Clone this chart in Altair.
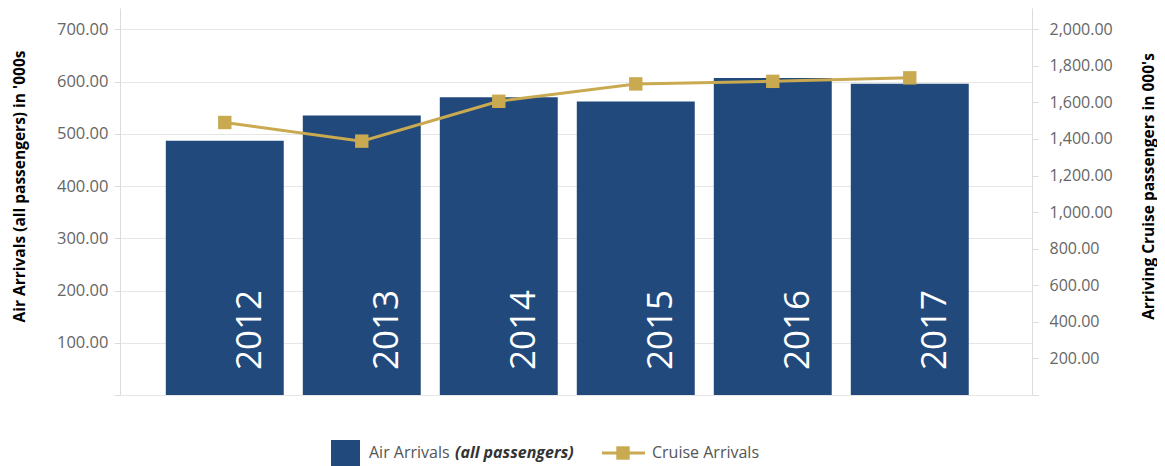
import altair as alt
import pandas as pd

years = ["2012", "2013", "2014", "2015", "2016", "2017"]
air_arrivals = [487, 535, 570, 562, 607, 596]
cruise_arrivals = [1490, 1388, 1606, 1701, 1715, 1734]

left_ticks = [0, 100, 200, 300, 400, 500, 600, 700]
right_ticks = [0, 200, 400, 600, 800, 1000, 1200, 1400, 1600, 1800, 2000]

NAVY = "#21497b"
GOLD = "#c9aa50"
FONT = "Open Sans"

df = pd.DataFrame({"year": years, "air": air_arrivals, "cruise": cruise_arrivals, "zero": [0] * 6})

xscale = alt.Scale(paddingInner=0.139, paddingOuter=0.398, align=0.42)
x = alt.X("year:N", scale=xscale, axis=None)

hide0 = "datum.value == 0 ? '' : format(datum.value, ',.2f')"

left_axis = alt.Axis(
    values=left_ticks, labelExpr=hide0, title="Air Arrivals (all passengers) in '000s",
    grid=True, gridColor="#e6e6e6", domainColor="#dcdcdc", tickColor="#dcdcdc", tickSize=6,
    labelPadding=6, labelFontSize=16.5, labelColor="#666666", labelFont=FONT,
    titleFont=FONT, titleFontSize=15.5, titleFontWeight="bold", titleColor="#000000",
    titleAngle=270, titleAlign="center", titleBaseline="middle", titleX=-101, titleY=178,
)
right_axis = alt.Axis(
    orient="right", values=right_ticks, labelExpr=hide0, title="Arriving Cruise passengers in 000's",
    grid=False, domainColor="#dcdcdc", tickColor="#dcdcdc", tickSize=6,
    labelPadding=11, labelFontSize=16, labelColor="#666666", labelFont=FONT,
    titleFont=FONT, titleFontSize=15.5, titleFontWeight="bold", titleColor="#000000",
    titleAngle=270, titleAlign="center", titleBaseline="middle", titleX=116, titleY=178,
)

left_scale = alt.Scale(domain=[0, 741], nice=False)
right_scale = alt.Scale(domain=[0, 2116], nice=False)

bars = alt.Chart(df).mark_bar(color=NAVY).encode(
    x=x, y=alt.Y("air:Q", scale=left_scale, axis=left_axis)
)
year_text = alt.Chart(df).mark_text(
    color="white", fontSize=35, font=FONT, angle=270, align="left", baseline="middle", dx=25, dy=25
).encode(
    x=x, y=alt.Y("zero:Q", scale=left_scale, axis=left_axis), text="year:N"
)
line = alt.Chart(df).mark_line(
    color=GOLD, strokeWidth=3,
    point=alt.OverlayMarkDef(shape="square", size=180, filled=True, color=GOLD, opacity=1),
).encode(
    x=x, y=alt.Y("cruise:Q", scale=right_scale, axis=right_axis)
)

one = pd.DataFrame({"k": [0]})
leg_rect = alt.Chart(one).mark_rect(color=NAVY).encode(
    x=alt.value(211), x2=alt.value(240), y=alt.value(432), y2=alt.value(460)
)
leg_t1 = alt.Chart(one).mark_text(
    text="Air Arrivals", align="left", baseline="middle", fontSize=16, font=FONT, color="#555555"
).encode(x=alt.value(249), y=alt.value(445))
leg_t2 = alt.Chart(one).mark_text(
    text="(all passengers)", align="left", baseline="middle", fontSize=16, font=FONT,
    fontStyle="italic", fontWeight="bold", color="#333333"
).encode(x=alt.value(335), y=alt.value(445))
leg_rule = alt.Chart(one).mark_rule(color=GOLD, strokeWidth=3).encode(
    x=alt.value(482), x2=alt.value(525), y=alt.value(445)
)
leg_sq = alt.Chart(one).mark_point(shape="square", size=180, filled=True, color=GOLD, opacity=1).encode(
    x=alt.value(503), y=alt.value(445)
)
leg_t3 = alt.Chart(one).mark_text(
    text="Cruise Arrivals", align="left", baseline="middle", fontSize=16, font=FONT, color="#555555"
).encode(x=alt.value(532), y=alt.value(445))

chart = alt.layer(
    alt.layer(bars, year_text),
    line,
    leg_rect, leg_t1, leg_t2, leg_rule, leg_sq, leg_t3,
).resolve_scale(y="independent").properties(
    width=912, height=387,
    autosize=alt.AutoSizeParams(type="none"),
    padding={"left": 112, "top": 0, "right": 125, "bottom": 71},
).configure_view(stroke=None)

chart.save("out.html", embed_options={"renderer": "svg", "actions": False})
